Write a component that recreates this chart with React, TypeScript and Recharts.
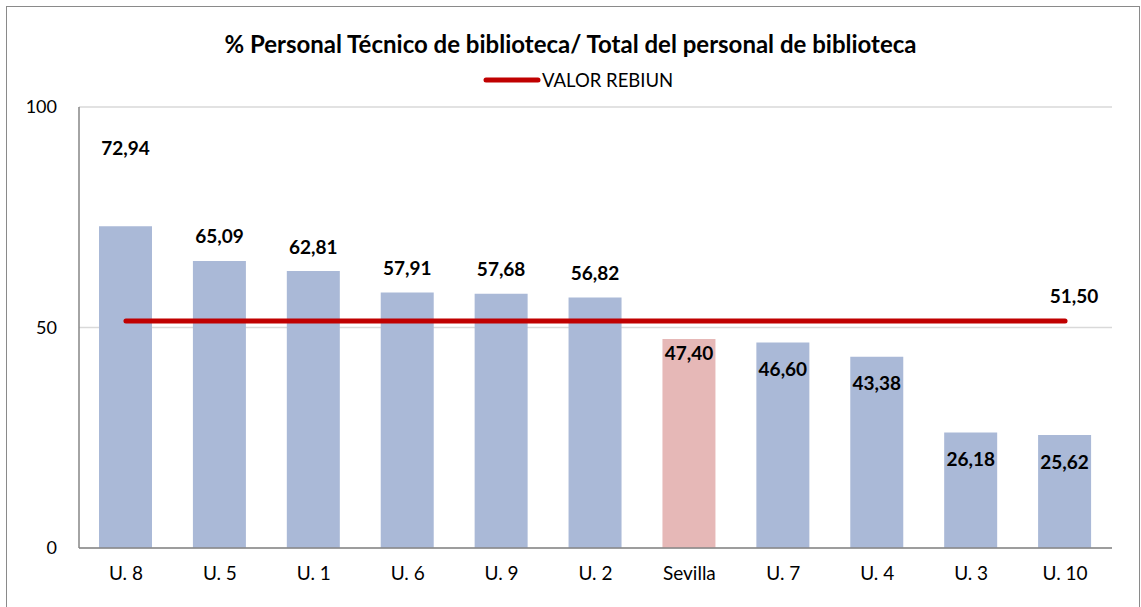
import {
  Bar,
  CartesianGrid,
  Cell,
  ComposedChart,
  Line,
  XAxis,
  YAxis,
} from "recharts";

const categories = [
  "U. 8",
  "U. 5",
  "U. 1",
  "U. 6",
  "U. 9",
  "U. 2",
  "Sevilla",
  "U. 7",
  "U. 4",
  "U. 3",
  "U. 10",
];
const tecnicoValues = [72.94, 65.09, 62.81, 57.91, 57.68, 56.82, 47.4, 46.6, 43.38, 26.18, 25.62];
const rebiunValues = [51.5, 51.5, 51.5, 51.5, 51.5, 51.5, 51.5, 51.5, 51.5, 51.5, 51.5];
const yTicks = [0, 50, 100];
const highlighted = "Sevilla";

const chartData = categories.map((name, i) => ({
  name,
  tecnico: tecnicoValues[i],
  rebiun: rebiunValues[i],
}));

const FONT = "Lato, 'Open Sans', sans-serif";
const BAR_COLOR = "#AAB9D7";
const HIGHLIGHT_COLOR = "#E6B8B7";
const REBIUN_COLOR = "#C00000";

const fmt = (v: number) => v.toFixed(2).replace(".", ",");

const BarValueLabel = (props: any) => {
  const { x, y, width, value, index } = props;
  const name = categories[index];
  let cy: number;
  if (value > rebiunValues[index]) {
    // above the bar; first label sits higher in the original
    cy = index === 0 ? y - 79 : y - 25;
  } else {
    cy = name === highlighted ? y + 14 : y + 26;
  }
  return (
    <text
      x={x + width / 2}
      y={cy}
      textAnchor="middle"
      dominantBaseline="central"
      fontFamily={FONT}
      fontWeight="bold"
      fontSize={19}
      fill="#000"
    >
      {fmt(value)}
    </text>
  );
};

const RebiunLabel = (props: any) => {
  const { x, y, value, index } = props;
  if (index !== categories.length - 1) return null;
  return (
    <text
      x={x + 9}
      y={y - 25}
      textAnchor="middle"
      dominantBaseline="central"
      fontFamily={FONT}
      fontWeight="bold"
      fontSize={19}
      fill="#000"
    >
      {fmt(value)}
    </text>
  );
};

export default function App() {
  return (
    <div
      style={{
        position: "absolute",
        left: 0,
        top: 0,
        width: 1141,
        height: 607,
        overflow: "hidden",
        background: "#fff",
        fontFamily: FONT,
      }}
    >
      <div
        style={{
          position: "absolute",
          left: 6,
          top: 6,
          width: 1134,
          height: 620,
          border: "1.5px solid #8A8A8A",
          boxSizing: "border-box",
        }}
      />
      <div
        style={{
          position: "absolute",
          left: 0,
          width: 1141,
          top: 29,
          textAlign: "center",
          fontWeight: "bold",
          fontSize: 24,
          color: "#000",
        }}
      >
        % Personal Técnico de biblioteca/ Total del personal de biblioteca
      </div>
      <div
        style={{
          position: "absolute",
          left: 483,
          top: 69,
          display: "flex",
          alignItems: "center",
          fontSize: 18.5,
          color: "#000",
        }}
      >
        <svg width={58} height={10}>
          <line
            x1={3}
            y1={5}
            x2={55}
            y2={5}
            stroke={REBIUN_COLOR}
            strokeWidth={5}
            strokeLinecap="round"
          />
        </svg>
        <span style={{ marginLeft: 1 }}>VALOR REBIUN</span>
      </div>
      <div style={{ position: "absolute", left: 0, top: 0 }}>
        <ComposedChart
          width={1141}
          height={607}
          data={chartData}
          margin={{ top: 107, right: 29, bottom: 29, left: 0 }}
        >
          <CartesianGrid vertical={false} stroke="#D9D9D9" strokeWidth={1.5} />
          <XAxis
            dataKey="name"
            tickLine={false}
            tickSize={0}
            tickMargin={19}
            height={30}
            axisLine={{ stroke: "#868686", strokeWidth: 1.5 }}
            tick={{ fill: "#000", fontSize: 19, fontFamily: FONT }}
          />
          <YAxis
            domain={[0, 100]}
            ticks={yTicks}
            width={79}
            tickLine={false}
            tickSize={0}
            tickMargin={22}
            axisLine={{ stroke: "#868686", strokeWidth: 1.5 }}
            tick={{ fill: "#000", fontSize: 18, fontFamily: FONT }}
          />
          <Bar
            dataKey="tecnico"
            barSize={53}
            isAnimationActive={false}
            label={BarValueLabel}
          >
            {chartData.map((d) => (
              <Cell
                key={d.name}
                fill={d.name === highlighted ? HIGHLIGHT_COLOR : BAR_COLOR}
              />
            ))}
          </Bar>
          <Line
            dataKey="rebiun"
            stroke={REBIUN_COLOR}
            strokeWidth={5}
            strokeLinecap="round"
            dot={false}
            activeDot={false}
            isAnimationActive={false}
            label={RebiunLabel}
          />
        </ComposedChart>
      </div>
    </div>
  );
}
